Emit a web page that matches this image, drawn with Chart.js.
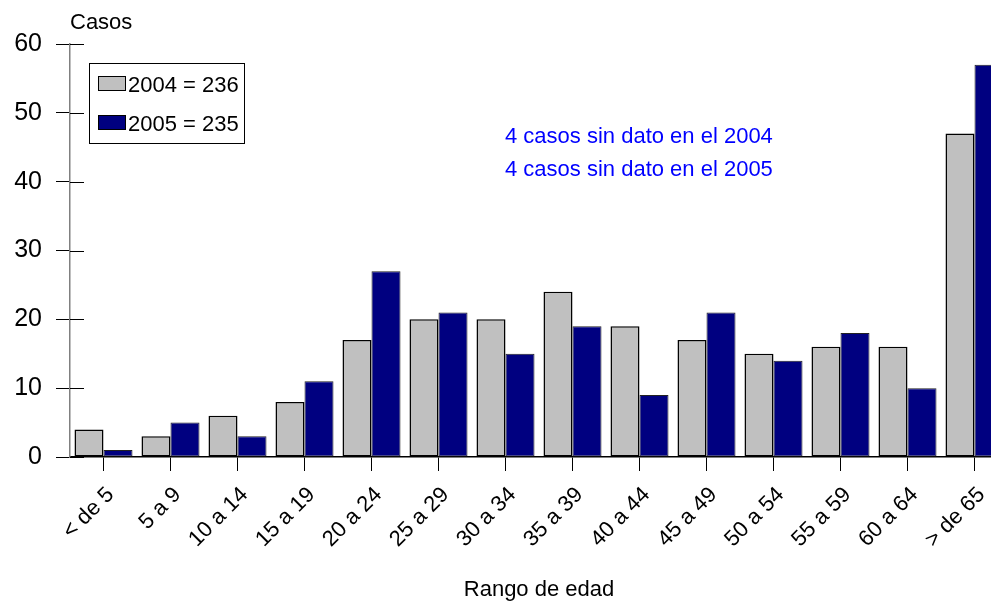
<!DOCTYPE html>
<html>
<head>
<meta charset="utf-8">
<script src="https://cdn.jsdelivr.net/npm/chart.js@4"></script>
<style>
  html, body { margin: 0; padding: 0; background: #fff; overflow: hidden; }
  #wrap { position: relative; width: 991px; height: 607px; overflow: hidden; }
  canvas { display: block; }
</style>
</head>
<body>
<div id="wrap"><canvas id="c" width="1010" height="607"></canvas></div>
<script>
const categories = ["< de 5", "5 a 9", "10 a 14", "15 a 19", "20 a 24", "25 a 29", "30 a 34", "35 a 39", "40 a 44", "45 a 49", "50 a 54", "55 a 59", "60 a 64", "> de 65"];
const values2004 = [4, 3, 6, 8, 17, 20, 20, 24, 19, 17, 15, 16, 16, 47];
const values2005 = [1, 5, 3, 11, 27, 21, 15, 19, 9, 21, 14, 18, 10, 57];
const seriesNames = ["2004 = 236", "2005 = 235"];
const seriesColors = ["#c0c0c0", "#000080"];
const notes = ["4 casos sin dato en el 2004", "4 casos sin dato en el 2005"];
const yTitle = "Casos";
const xTitle = "Rango de edad";

const FONT = "'Liberation Sans', Arial, sans-serif";

const decor = {
  id: 'decor',
  afterDraw(chart) {
    const ctx = chart.ctx;
    const y = chart.scales.y;
    const area = chart.chartArea;
    ctx.save();
    // inner half of the y tick marks
    ctx.strokeStyle = '#000';
    ctx.lineWidth = 1;
    y.ticks.forEach(t => {
      const py = Math.round(y.getPixelForValue(t.value)) + 0.5;
      ctx.beginPath();
      ctx.moveTo(area.left, py);
      ctx.lineTo(area.left + 14, py);
      ctx.stroke();
    });
    // y title
    ctx.fillStyle = '#000';
    ctx.font = "22px " + FONT;
    ctx.textAlign = 'left';
    ctx.textBaseline = 'alphabetic';
    ctx.fillText(yTitle, area.left, 29);
    // legend box
    ctx.fillStyle = '#fff';
    ctx.fillRect(89, 63, 155, 80);
    ctx.strokeStyle = '#000';
    ctx.lineWidth = 1;
    ctx.strokeRect(89.5, 63.5, 155, 80);
    const rows = [76, 115];
    seriesNames.forEach((name, i) => {
      ctx.fillStyle = seriesColors[i];
      ctx.fillRect(98, rows[i], 28, 15);
      ctx.strokeStyle = '#000';
      ctx.strokeRect(98.5, rows[i] + 0.5, 27, 14);
      ctx.fillStyle = '#000';
      ctx.font = "22px " + FONT;
      ctx.fillText(name, 128, rows[i] + 16);
    });
    // notes
    ctx.fillStyle = '#0000ff';
    ctx.font = "22px " + FONT;
    notes.forEach((n, i) => ctx.fillText(n, 505, 143 + i * 33));
    ctx.restore();
  }
};

new Chart(document.getElementById('c'), {
  type: 'bar',
  data: {
    labels: categories,
    datasets: [
      { label: seriesNames[0], data: values2004, backgroundColor: seriesColors[0], borderColor: '#000', borderWidth: 1.5, borderSkipped: false },
      { label: seriesNames[1], data: values2005, backgroundColor: seriesColors[1], borderColor: '#222', borderWidth: 1, borderSkipped: false }
    ]
  },
  options: {
    responsive: false,
    animation: false,
    devicePixelRatio: 1,
    layout: { padding: { top: 44, right: 2, left: 0, bottom: 0 } },
    plugins: { legend: { display: false }, tooltip: { enabled: false }, title: { display: false } },
    datasets: { bar: { categoryPercentage: 0.866, barPercentage: 1 } },
    scales: {
      x: {
        offset: true,
        grid: { offset: false, drawOnChartArea: false, drawTicks: true, tickLength: 14, color: '#000', lineWidth: 1 },
        border: { display: true, color: '#000', width: 1.5 },
        ticks: { autoSkip: false, maxRotation: 45, minRotation: 45, color: '#000', font: { family: FONT, size: 22 }, padding: 11, labelOffset: 7 },
        title: { display: true, text: xTitle, color: '#000', font: { family: FONT, size: 22 }, padding: { top: 0, bottom: 4 } },
        afterFit(s) { s.height = 150; }
      },
      y: {
        min: 0, max: 60,
        grid: { drawOnChartArea: false, drawTicks: true, tickLength: 14, color: '#000', lineWidth: 1 },
        border: { display: true, color: '#808080', width: 1.5 },
        ticks: { stepSize: 10, color: '#000', font: { family: FONT, size: 25 }, padding: 14 },
        afterFit(s) { s.width = 70; }
      }
    }
  },
  plugins: [decor]
});
</script>
</body>
</html>
